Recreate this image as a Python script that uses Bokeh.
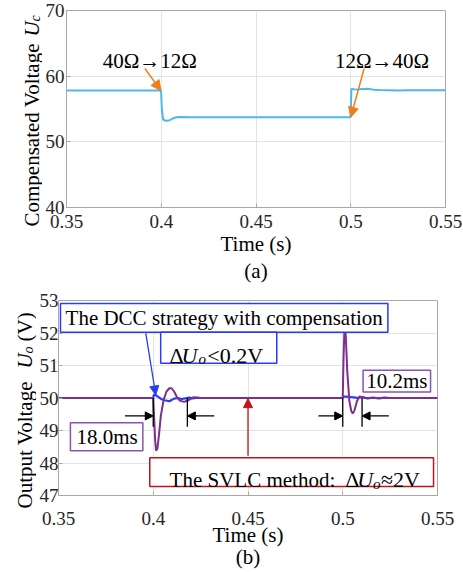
import math
from bokeh.plotting import figure
from bokeh.models import Label, Arrow, NormalHead, BoxAnnotation, FixedTicker, Range1d
from bokeh.layouts import column, row
from bokeh.embed import file_html
from bokeh.resources import INLINE

FONT = "Liberation Serif"

# ---------------- data ----------------
x_ticks = [0.35, 0.40, 0.45, 0.50, 0.55]
x_tick_labels = ["0.35", "0.4", "0.45", "0.5", "0.55"]
uc_ticks = [40, 50, 60, 70]
uo_ticks = [47, 48, 49, 50, 51, 52, 53]

# (a) compensated voltage Uc
uc_time = [0.350, 0.3999, 0.4003, 0.4010, 0.4020, 0.4030, 0.4045, 0.4060, 0.4080,
           0.4100, 0.4150, 0.4999, 0.5001, 0.5003, 0.5006, 0.5030, 0.5060, 0.5090,
           0.5120, 0.5150, 0.5200, 0.5250, 0.5300, 0.5500]
uc_value = [57.8, 57.8, 55.0, 53.4, 53.25, 53.2, 53.3, 53.55, 53.75,
            53.8, 53.75, 53.75, 55.0, 58.0, 58.05, 57.95, 58.05, 58.1,
            57.95, 57.9, 57.85, 57.8, 57.85, 57.85]

# (b) output voltage Uo, SVLC method
svlc_time = [0.350, 0.4000, 0.4005, 0.4010, 0.4015, 0.4022, 0.4030, 0.4040, 0.4055,
             0.4070, 0.4085, 0.4097, 0.4110, 0.4125, 0.4140, 0.4163, 0.4185, 0.4210,
             0.4240, 0.5000, 0.5004, 0.5010, 0.5016, 0.5024, 0.5035, 0.5045, 0.5053,
             0.5062, 0.5075, 0.5088, 0.5100, 0.5120, 0.5500]
svlc_value = [50.0, 50.0, 49.35, 48.7, 48.38, 48.45, 48.85, 49.45, 49.95,
              50.2, 50.3, 50.3, 50.2, 50.03, 49.92, 49.88, 49.93, 50.02,
              50.0, 50.0, 51.2, 52.3, 51.9, 50.8, 49.9, 49.6, 49.52,
              49.62, 49.9, 50.05, 50.03, 50.0, 50.0]

# (b) output voltage Uo, DCC strategy with compensation
dcc_time = [0.350, 0.4000, 0.4003, 0.4015, 0.4030, 0.4045, 0.4060, 0.4085, 0.4110,
            0.4130, 0.4150, 0.4170, 0.4190, 0.4210, 0.4230, 0.4250, 0.4999, 0.5003,
            0.5020, 0.5040, 0.5060, 0.5080, 0.5100, 0.5130, 0.5160, 0.5190, 0.5220,
            0.5250, 0.5500]
dcc_value = [50.0, 50.0, 50.1, 50.08, 50.02, 49.96, 49.93, 49.9, 49.98,
             50.0, 49.97, 49.99, 50.01, 49.99, 50.01, 50.0, 50.0, 50.04,
             50.04, 50.03, 50.02, 50.0, 50.03, 49.99, 50.01, 49.99, 50.01,
             50.0, 50.0]

# settling-time markers (s): 18.0 ms after 0.4 s, 10.2 ms after 0.5 s
settle_marks = [0.400, 0.418, 0.500, 0.5102]

AX_GRAY = "#a8a8a8"
TXT = "#262626"
ORANGE = "#ef7d1f"
BLUE = "#2a3cf0"
PURPLE = "#7e2f8e"
BOX_PURPLE = "#8a52b4"
RED = "#c0151c"


def make_fig(w, h, left, right, top, bottom, yr, yticks, xlabel, x_standoff,
             lab_standoff, lab_lh, y_standoff):
    p = figure(width=w, height=h, x_range=(0.35, 0.55), y_range=yr,
               output_backend="svg", toolbar_location=None,
               min_border_left=left, min_border_right=right,
               min_border_top=top, min_border_bottom=bottom)
    p.frame_align = False
    p.background_fill_color = "white"
    p.border_fill_color = "white"
    p.outline_line_color = AX_GRAY
    p.xaxis.ticker = FixedTicker(ticks=x_ticks)
    p.xaxis.major_label_overrides = dict(zip(x_ticks, x_tick_labels))
    p.yaxis.ticker = FixedTicker(ticks=yticks)
    for ax in (p.xaxis[0], p.yaxis[0]):
        ax.axis_line_color = AX_GRAY
        ax.major_tick_line_color = AX_GRAY
        ax.major_tick_in = 4
        ax.major_tick_out = 0
        ax.minor_tick_line_color = None
        ax.major_label_text_font = FONT
        ax.major_label_text_font_size = "19px"
        ax.major_label_text_color = TXT
    p.yaxis.major_label_standoff = y_standoff
    p.xaxis.major_label_standoff = x_standoff
    p.xaxis.axis_label = xlabel
    p.xaxis.axis_label_text_font = FONT
    p.xaxis.axis_label_text_font_size = "21px"
    p.xaxis.axis_label_text_font_style = "normal"
    p.xaxis.axis_label_text_color = "black"
    p.xaxis.axis_label_text_line_height = lab_lh
    p.xaxis.axis_label_standoff = lab_standoff
    p.xgrid.grid_line_color = "#e3e3e3"
    p.ygrid.grid_line_color = "#e3e3e3"
    return p


def label_fig(w, h):
    f = figure(width=w, height=h, x_range=Range1d(0, w), y_range=Range1d(0, h),
               output_backend="svg", toolbar_location=None,
               x_axis_location=None, y_axis_location=None,
               min_border=0, min_border_left=0, min_border_right=0,
               min_border_top=0, min_border_bottom=0)
    f.frame_align = False
    f.outline_line_color = None
    f.grid.visible = False
    f.background_fill_color = "white"
    f.border_fill_color = "white"
    return f


def vtext(f, h, px, py, text, size=21, style="normal"):
    # px, py: pixel position from the top-left of the label strip
    f.add_layout(Label(x=px, y=h - py, text=text, angle=math.pi / 2,
                       text_font=FONT, text_font_size=f"{size}px",
                       text_font_style=style, text_align="left",
                       text_baseline="alphabetic", text_color="black"))


def add_text(p, fx, fy, px, py, text, size=21, style="normal", align="center",
             baseline="middle", color="black"):
    p.add_layout(Label(x=fx(px), y=fy(py), text=text, text_font=FONT,
                       text_font_size=f"{size}px", text_font_style=style,
                       text_align=align, text_baseline=baseline,
                       text_color=color))


def add_arrow(p, x0, y0, x1, y1, color, width=1.5, head=10):
    end = NormalHead(size=head, fill_color=color, line_color=color) if head else None
    p.add_layout(Arrow(end=end, x_start=x0, y_start=y0, x_end=x1, y_end=y1,
                       line_color=color, line_width=width))


def add_box(p, l, r, t, b, color):
    p.add_layout(BoxAnnotation(left=l, right=r, top=t, bottom=b,
                               fill_color="white", fill_alpha=1.0,
                               line_color=color, line_width=1.5, line_alpha=1.0))


# ---------------- (a) ----------------
YA_W = 42
p1 = make_fig(463 - YA_W, 290, 63 - YA_W, 18, 10, 83, (40, 70), uc_ticks,
              "Time (s)\n(a)", 7, 1, 1.15, 2)


def tx(px):
    return 0.35 + (px - 63) / 382 * 0.2


def ty(py):
    return 70 - (py - 10) / 197 * 30


p1.line(uc_time, uc_value, line_color="#4db8ee", line_width=2)

add_arrow(p1, tx(142), ty(68), 0.3998, 57.8, ORANGE)
add_arrow(p1, tx(363), ty(68), 0.5, 53.75, ORANGE)
add_text(p1, tx, ty, 147, 60, "40Ω→12Ω")
add_text(p1, tx, ty, 381, 60, "12Ω→40Ω")

ya = label_fig(YA_W, 290)
vtext(ya, 290, 31, 226, "Compensated Voltage")
vtext(ya, 290, 31, 36, "U", style="italic")
vtext(ya, 290, 35, 21, "c", size=14, style="italic")

# ---------------- (b) ----------------
YB_W = 36
p2 = make_fig(463 - YB_W, 282, 55 - YB_W, 26, 10, 76, (47, 53), uo_ticks,
              "Time (s)\n(b)", 16, -5, 0.95, 0)


def bx(px):
    return 0.35 + (px - 55) / 382 * 0.2


def by(py):
    return 53 - (py - 300) / 196 * 6


p2.line(dcc_time, dcc_value, line_color=BLUE, line_width=2.2)
p2.line(svlc_time, svlc_value, line_color=PURPLE, line_width=2.0)

# settling-time markers
for m in settle_marks:
    add_arrow(p2, m, by(398), m, by(427), "black", width=1.3, head=0)
add_arrow(p2, bx(122), by(416), settle_marks[0], by(416), "black", width=1.2, head=8)
add_arrow(p2, bx(212), by(416), settle_marks[1], by(416), "black", width=1.2, head=8)
add_arrow(p2, bx(317), by(416), settle_marks[2], by(416), "black", width=1.2, head=8)
add_arrow(p2, bx(388), by(416), settle_marks[3], by(416), "black", width=1.2, head=8)

# blue annotation
add_arrow(p2, bx(143), by(333), bx(153), by(395), BLUE, width=1.3, head=9)
add_box(p2, bx(57), bx(387), by(303), by(332), BLUE)
add_text(p2, bx, by, 222, 318, "The DCC strategy with compensation")
add_box(p2, bx(158), bx(275), by(332), by(363), BLUE)
add_text(p2, bx, by, 167, 355, "Δ", size=22, align="left", baseline="alphabetic")
add_text(p2, bx, by, 179, 355, "U", size=22, style="italic", align="left", baseline="alphabetic")
add_text(p2, bx, by, 196, 359, "o", size=15, style="italic", align="left", baseline="alphabetic")
add_text(p2, bx, by, 205, 355, "<0.2V", size=22, align="left", baseline="alphabetic")

# purple boxes
add_box(p2, bx(362), bx(430), by(370), by(392), BOX_PURPLE)
add_text(p2, bx, by, 396, 381, "10.2ms")
add_box(p2, bx(67), bx(140), by(423), by(451), BOX_PURPLE)
add_text(p2, bx, by, 104, 437, "18.0ms")

# red annotation
add_arrow(p2, 0.45, by(456), 0.45, 49.98, RED, width=1.3, head=9)
add_box(p2, bx(147), bx(433), by(458), by(487), RED)
add_text(p2, bx, by, 167, 480, "The SVLC method:", size=21, align="left", baseline="alphabetic")
add_text(p2, bx, by, 344, 480, "Δ", size=22, align="left", baseline="alphabetic")
add_text(p2, bx, by, 356, 480, "U", size=22, style="italic", align="left", baseline="alphabetic")
add_text(p2, bx, by, 372, 484, "o", size=15, style="italic", align="left", baseline="alphabetic")
add_text(p2, bx, by, 380, 480, "≈2V", size=22, align="left", baseline="alphabetic")

yb = label_fig(YB_W, 282)
vtext(yb, 282, 24, 218, "Output Voltage")
vtext(yb, 282, 24, 78, "U", style="italic")
vtext(yb, 282, 28, 63, "o", size=14, style="italic")
vtext(yb, 282, 24, 51, "(V)")

layout = column(row(ya, p1), row(yb, p2))
open("out.html", "w").write(file_html(layout, INLINE))
